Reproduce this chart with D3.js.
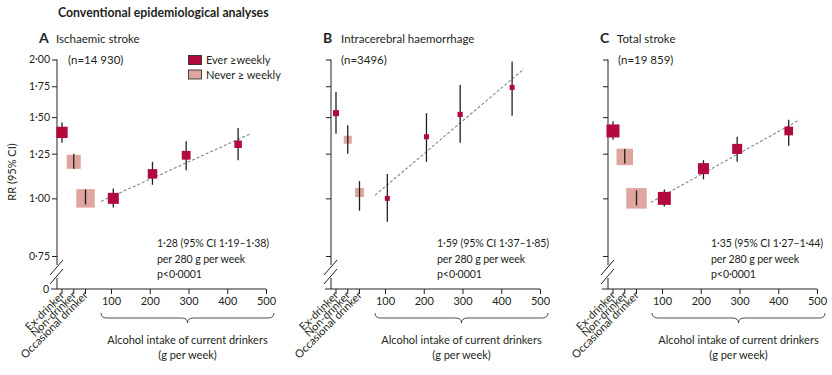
<!DOCTYPE html>
<html>
<head>
<meta charset="utf-8">
<script src="https://cdn.jsdelivr.net/npm/d3@7"></script>
<style>
  body { margin: 0; background: #fff; }
  svg { font-family: Lato, "Open Sans", sans-serif; fill: #231f20; }
</style>
</head>
<body>
<svg width="832" height="375"></svg>
<script>
// categories / ticks
const categories = ["Ex-drinker", "Non-drinker", "Occasional drinker"];
const xTicks = [100, 200, 300, 400, 500];
const yTicks = [0.75, 1.00, 1.25, 1.50, 1.75, 2.00];
const legendItems = [["ever", "Ever ≥weekly"], ["never", "Never ≥ weekly"]];

// A: ischaemic stroke  (w = relative weight, inverse variance)
const ischaemicCats = [
  { cat: "Ex-drinker", group: "ever", rr: 1.39, lo: 1.32, hi: 1.46, w: 128 },
  { cat: "Non-drinker", group: "never", rr: 1.20, lo: 1.16, hi: 1.25, w: 196 },
  { cat: "Occasional drinker", group: "never", rr: 1.00, lo: 0.97, hi: 1.045, w: 342 }
];
const ischaemicIntake = [
  { g: 106, rr: 1.00, lo: 0.955, hi: 1.05, w: 121 },
  { g: 207, rr: 1.13, lo: 1.07, hi: 1.20, w: 90 },
  { g: 294, rr: 1.24, lo: 1.15, hi: 1.33, w: 78 },
  { g: 428, rr: 1.31, lo: 1.21, hi: 1.42, w: 56 }
];
const ischaemicTrend = [[74, 0.985], [460, 1.38]];

// B: intracerebral haemorrhage
const ichCats = [
  { cat: "Ex-drinker", group: "ever", rr: 1.53, lo: 1.38, hi: 1.70, w: 36 },
  { cat: "Non-drinker", group: "never", rr: 1.34, lo: 1.25, hi: 1.44, w: 64 },
  { cat: "Occasional drinker", group: "never", rr: 1.03, lo: 0.94, hi: 1.09, w: 81 }
];
const ichIntake = [
  { g: 106, rr: 1.00, lo: 0.89, hi: 1.13, w: 25 },
  { g: 207, rr: 1.36, lo: 1.20, hi: 1.53, w: 25 },
  { g: 294, rr: 1.52, lo: 1.32, hi: 1.76, w: 27 },
  { g: 428, rr: 1.74, lo: 1.51, hi: 1.98, w: 25 }
];
const ichTrend = [[74, 1.015], [459, 1.91]];

// C: total stroke
const totalCats = [
  { cat: "Ex-drinker", group: "ever", rr: 1.40, lo: 1.34, hi: 1.47, w: 169 },
  { cat: "Non-drinker", group: "never", rr: 1.23, lo: 1.19, hi: 1.28, w: 272 },
  { cat: "Occasional drinker", group: "never", rr: 1.00, lo: 0.965, hi: 1.04, w: 420 }
];
const totalIntake = [
  { g: 106, rr: 1.00, lo: 0.96, hi: 1.045, w: 169 },
  { g: 207, rr: 1.16, lo: 1.10, hi: 1.21, w: 121 },
  { g: 294, rr: 1.28, lo: 1.20, hi: 1.36, w: 100 },
  { g: 427, rr: 1.40, lo: 1.30, hi: 1.48, w: 76 }
];
const totalTrend = [[71, 0.98], [455, 1.48]];

const panels = [
  { x0: 57, letter: "A", title: "Ischaemic stroke", n: "(n=14 930)", cats: ischaemicCats, intake: ischaemicIntake, trend: ischaemicTrend,
    stats: ["1·28 (95% CI 1·19–1·38)", "per 280 g per week", "p<0·0001"], letterDx: -18, titleDx: -1, nDx: 11, statDx: 100, labels: true, legend: true },
  { x0: 331, letter: "B", title: "Intracerebral haemorrhage", n: "(n=3496)", cats: ichCats, intake: ichIntake, trend: ichTrend,
    stats: ["1·59 (95% CI 1·37–1·85)", "per 280 g per week", "p<0·0001"], letterDx: -8, titleDx: 10, nDx: 10, statDx: 106 },
  { x0: 608, letter: "C", title: "Total stroke", n: "(n=19 859)", cats: totalCats, intake: totalIntake, trend: totalTrend,
    stats: ["1·35 (95% CI 1·27–1·44)", "per 280 g per week", "p<0·0001"], letterDx: -8, titleDx: 9, nDx: 10, statDx: 103 }
];

const colors = { ever: "#b3093c", never: "#dea69e" };
const ink = "#231f20";
const fmt = d => d3.format(".2f")(d).replace(".", "·");

const svg = d3.select("svg");
const y = d3.scaleLog().domain([0.75, 2]).range([256, 59.5]);
const yZero = 289;
const side = d3.scaleSqrt().domain([0, 400]).range([0, 20]);

svg.append("text").attr("x", 58).attr("y", 17)
  .attr("font-size", 12.3).attr("font-weight", "bold")
  .text("Conventional epidemiological analyses");

panels.forEach(p => {
  const g = svg.append("g");
  const x = d3.scaleLinear().domain([100, 500]).range([p.x0 + 54, p.x0 + 209]);
  const xc = d3.scalePoint().domain(categories).range([p.x0 + 5, p.x0 + 28.5]);

  // headings
  g.append("text").attr("x", p.x0 + p.letterDx).attr("y", 43)
    .attr("font-size", 14).attr("font-weight", "bold").text(p.letter);
  g.append("text").attr("x", p.x0 + p.titleDx).attr("y", 43)
    .attr("font-size", 11.5).text(p.title);
  g.append("text").attr("x", p.x0 + p.nDx).attr("y", 64)
    .attr("font-size", 11.5).text(p.n);

  // y axis
  const ya = g.append("g").attr("transform", `translate(${p.x0},0)`)
    .call(d3.axisLeft(y).tickValues(yTicks).tickSize(5).tickPadding(2)
      .tickFormat(p.labels ? fmt : ""));
  ya.select(".domain").remove();
  ya.selectAll("line").attr("stroke", ink);
  ya.selectAll("text").attr("font-size", 10.5).attr("fill", ink).attr("font-family", "Lato");
  g.append("line").attr("x1", p.x0).attr("x2", p.x0).attr("y1", y(2)).attr("y2", 265).attr("stroke", ink);
  g.append("line").attr("x1", p.x0).attr("x2", p.x0).attr("y1", 278).attr("y2", yZero).attr("stroke", ink);
  g.append("line").attr("x1", p.x0 - 7).attr("x2", p.x0 + 6).attr("y1", 275).attr("y2", 260).attr("stroke", ink);
  g.append("line").attr("x1", p.x0 - 7).attr("x2", p.x0 + 6).attr("y1", 284).attr("y2", 269).attr("stroke", ink);
  g.append("line").attr("x1", p.x0 - 6).attr("x2", p.x0 + 209).attr("y1", yZero).attr("y2", yZero).attr("stroke", ink);
  if (p.labels) {
    g.append("text").attr("x", p.x0 - 8).attr("y", yZero + 3.5).attr("text-anchor", "end")
      .attr("font-size", 10.5).text("0");
  }

  // x axis (intake)
  const xa = g.append("g").attr("transform", `translate(0,${yZero})`)
    .call(d3.axisBottom(x).tickValues(xTicks).tickSize(5).tickPadding(3));
  xa.select(".domain").remove();
  xa.selectAll("line").attr("stroke", ink);
  xa.selectAll("text").attr("font-size", 11).attr("fill", ink).attr("font-family", "Lato");

  // category ticks
  categories.forEach(c => {
    g.append("line").attr("x1", xc(c)).attr("x2", xc(c)).attr("y1", yZero).attr("y2", yZero + 5).attr("stroke", ink);
    g.append("text").attr("transform", `translate(${xc(c) + 3},${yZero + 7}) rotate(-45)`)
      .attr("text-anchor", "end").attr("font-size", 11).text(c);
  });

  // brace
  const bl = p.x0 + 44, br = p.x0 + 217, bm = (bl + br) / 2;
  g.append("path")
    .attr("d", `M${bl},313 Q${bl},318 ${bl + 6},318 L${bm - 6},318 Q${bm},318 ${bm},323 Q${bm},318 ${bm + 6},318 L${br - 6},318 Q${br},318 ${br},313`)
    .attr("fill", "none").attr("stroke", ink).attr("stroke-width", 0.8);
  g.append("text").attr("x", bm).attr("y", 344).attr("text-anchor", "middle").attr("font-size", 11)
    .text("Alcohol intake of current drinkers");
  g.append("text").attr("x", bm).attr("y", 359).attr("text-anchor", "middle").attr("font-size", 11)
    .text("(g per week)");

  // trend
  g.append("path").datum(p.trend)
    .attr("d", d3.line().x(d => x(d[0])).y(d => y(d[1])))
    .attr("fill", "none").attr("stroke", "#7d8a8e").attr("stroke-width", 1.1).attr("stroke-dasharray", "3,2");

  // points
  const pts = p.cats.map(d => Object.assign({ px: xc(d.cat) }, d))
    .concat(p.intake.map(d => Object.assign({ px: x(d.g), group: "ever" }, d)));
  pts.forEach(d => {
    const s = side(d.w);
    const ci = () => g.append("line").attr("x1", d.px).attr("x2", d.px)
      .attr("y1", y(d.hi)).attr("y2", y(d.lo)).attr("stroke", ink).attr("stroke-width", 1.3);
    if (d.group === "ever") ci();
    g.append("rect").attr("x", d.px - s / 2).attr("y", y(d.rr) - s / 2)
      .attr("width", s).attr("height", s).attr("fill", colors[d.group]);
    if (d.group === "never") ci();
  });

  // stats
  p.stats.forEach((t, i) => {
    g.append("text").attr("x", p.x0 + p.statDx).attr("y", 247 + i * 15.5)
      .attr("font-size", 10.6).attr("letter-spacing", -0.1).text(t);
  });

  if (p.legend) {
    legendItems.forEach((l, i) => {
      g.append("rect").attr("x", 188.5).attr("y", 55.5 + i * 14.5).attr("width", 13).attr("height", 9)
        .attr("fill", colors[l[0]]).attr("stroke", ink).attr("stroke-width", 0.8);
      g.append("text").attr("x", 206).attr("y", 64 + i * 14.5).attr("font-size", 11).text(l[1]);
    });
  }
});

svg.append("text").attr("transform", "translate(16,172) rotate(-90)")
  .attr("text-anchor", "middle").attr("font-size", 11).text("RR (95% CI)");
</script>
</body>
</html>
